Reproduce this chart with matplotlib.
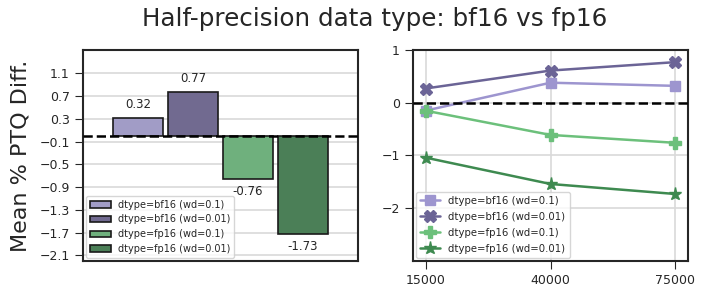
import numpy as np
import matplotlib
matplotlib.use("Agg")
import matplotlib.pyplot as plt
import seaborn as sns

sns.set_style("ticks")
plt.rcParams['font.family'] = ['DejaVu Sans']

LABELS = ["dtype=bf16 (wd=0.1)", "dtype=bf16 (wd=0.01)",
          "dtype=fp16 (wd=0.1)", "dtype=fp16 (wd=0.01)"]
STEPS = ["15000", "40000", "75000"]
BF16_WD01 = [-0.15, 0.38, 0.32]
BF16_WD001 = [0.27, 0.61, 0.77]
FP16_WD01 = [-0.15, -0.61, -0.76]
FP16_WD001 = [-1.04, -1.54, -1.73]
SERIES = [BF16_WD01, BF16_WD001, FP16_WD01, FP16_WD001]
BAR_VALUES = [s[-1] for s in SERIES]

BAR_COLORS = ["#a19cc6", "#716a90", "#6fb07d", "#4b7f57"]
LINE_COLORS = ["#9d95cf", "#6b6496", "#6cc07b", "#3e8a50"]
MARKERS = ["s", "X", "P", "*"]
MSIZES = [7.5, 8.5, 8.5, 9.5]

fig = plt.figure(figsize=(7.06, 2.99), dpi=100)
ax1 = fig.add_axes([0.1176, 0.1271, 0.3895, 0.7057])
ax2 = fig.add_axes([0.585, 0.1271, 0.3895, 0.7057])

# --- left: bars at final step ----------------------------------------------
xs = np.array([-0.3, -0.1, 0.1, 0.3])
bars = ax1.bar(xs, BAR_VALUES, width=0.18, color=BAR_COLORS,
               edgecolor="#1a1a1a", linewidth=1.2, zorder=3)
for b, v in zip(bars, BAR_VALUES):
    ax1.annotate(f"{v:.2f}", (b.get_x() + b.get_width() / 2, v),
                 textcoords="offset points", xytext=(0, 5 if v > 0 else -4),
                 ha="center", va="bottom" if v > 0 else "top", fontsize=8.5,
                 color="#262626")
ax1.axhline(0, color="black", ls="--", lw=1.8, zorder=4)
ax1.set_xlim(-0.5, 0.5)
ax1.set_ylim(-2.2, 1.51)
ax1.set_yticks(np.round(np.arange(-2.1, 1.2, 0.4), 1))
ax1.set_xticks([])
ax1.yaxis.grid(True, color="#d9d9d9", lw=1.2, zorder=0)
ax1.set_ylabel("Mean % PTQ Diff.", fontsize=16, labelpad=6)
ax1.legend(handles=list(bars), labels=LABELS, loc="lower left", fontsize=7,
           handlelength=2.2, handletextpad=0.7, borderaxespad=0.3,
           labelspacing=0.5)

# --- right: lines over training steps --------------------------------------
pos = np.arange(len(STEPS))
for vals, c, m, ms, lab in zip(SERIES, LINE_COLORS, MARKERS, MSIZES, LABELS):
    ax2.plot(pos, vals, color=c, marker=m, markersize=ms, lw=1.8,
             label=lab, zorder=3)
ax2.axhline(0, color="black", ls="--", lw=1.8, zorder=4)
ax2.set_xticks(pos)
ax2.set_xticklabels(STEPS)
ax2.set_xlim(-0.1, 2.1)
ax2.set_ylim(-3, 1)
ax2.set_yticks([-2, -1, 0, 1])
ax2.grid(True, color="#d9d9d9", lw=1.2, zorder=0)
ax2.legend(loc="lower left", fontsize=7.3, handlelength=2.0,
           borderaxespad=0.3, labelspacing=0.6)

for ax in (ax1, ax2):
    ax.tick_params(labelsize=9, length=6, color="#262626")
    for sp in ax.spines.values():
        sp.set_color("#262626")
        sp.set_linewidth(1.5)

fig.suptitle("Half-precision data type: bf16 vs fp16", fontsize=17.7,
             x=0.531, y=0.975)
fig.savefig("out.png", dpi=100)
